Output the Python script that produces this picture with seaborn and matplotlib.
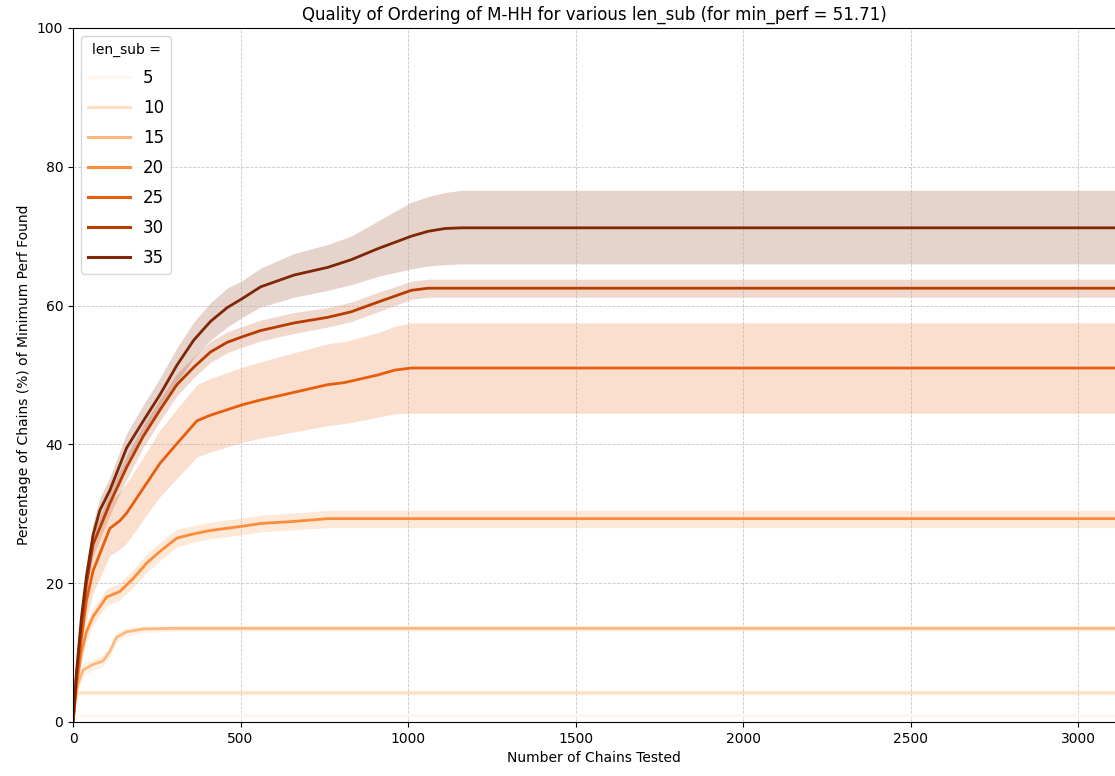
import numpy as np
import pandas as pd
import matplotlib
matplotlib.use("Agg")
import matplotlib.pyplot as plt
import seaborn as sns

X_END = 3110

# Mean percentage of chains reaching min_perf, with lower / upper band, per len_sub
len_sub_levels = [5, 10, 15, 20, 25, 30, 35]

x_5 = [0, 3, 8, X_END]
mean_5 = [0.0, 0.6, 0.9, 0.9]
lo_5 = [0.0, 0.4, 0.7, 0.7]
hi_5 = [0.0, 0.8, 1.1, 1.1]

x_10 = [0, 5, 12, 20, X_END]
mean_10 = [0.0, 2.5, 4.1, 4.2, 4.2]
lo_10 = [0.0, 1.8, 3.6, 3.8, 3.8]
hi_10 = [0.0, 3.2, 4.6, 4.6, 4.6]

x_15 = [0, 5, 15, 30, 60, 90, 110, 130, 160, 210, 310, X_END]
mean_15 = [0.0, 3.0, 5.5, 7.5, 8.3, 8.8, 10.2, 12.2, 13.0, 13.4, 13.5, 13.5]
lo_15 = [0.0, 2.2, 4.6, 6.6, 7.5, 8.0, 9.4, 11.5, 12.4, 12.9, 13.1, 13.1]
hi_15 = [0.0, 3.8, 6.4, 8.4, 9.1, 9.6, 11.0, 12.9, 13.6, 13.9, 13.9, 13.9]

x_20 = [0, 10, 25, 40, 60, 100, 140, 180, 220, 260, 310, 360, 410, 505, 560, 660, 760, X_END]
mean_20 = [0.0, 5.0, 10.0, 13.0, 15.2, 18.0, 18.8, 20.7, 22.9, 24.6, 26.5, 27.1,
           27.6, 28.2, 28.6, 28.9, 29.3, 29.3]
lo_20 = [0.0, 4.0, 8.8, 11.8, 14.0, 16.8, 17.6, 19.4, 21.6, 23.3, 25.2, 25.9,
         26.4, 27.0, 27.4, 27.7, 28.0, 28.0]
hi_20 = [0.0, 6.0, 11.2, 14.2, 16.4, 19.2, 20.0, 22.0, 24.2, 25.9, 27.8, 28.3,
         28.8, 29.4, 29.8, 30.1, 30.5, 30.5]

x_25 = [0, 10, 25, 40, 60, 110, 140, 160, 210, 260, 310, 370, 410, 505, 560, 660,
        760, 810, 910, 960, 1010, X_END]
mean_25 = [0.0, 5.5, 12.0, 17.5, 21.8, 27.9, 29.0, 30.1, 33.7, 37.3, 40.1, 43.4,
           44.2, 45.7, 46.4, 47.5, 48.6, 48.9, 50.0, 50.7, 51.0, 51.0]
lo_25 = [0.0, 4.0, 9.8, 14.8, 18.6, 24.0, 24.9, 25.8, 29.2, 32.5, 35.1, 38.2,
         38.9, 40.3, 40.9, 41.8, 42.7, 43.0, 43.9, 44.4, 44.5, 44.5]
hi_25 = [0.0, 7.0, 14.2, 20.2, 25.0, 31.8, 33.1, 34.4, 38.2, 42.1, 45.1, 48.6,
         49.5, 51.1, 51.9, 53.2, 54.5, 54.8, 56.1, 57.0, 57.5, 57.5]

x_30 = [0, 10, 25, 40, 60, 110, 160, 210, 260, 310, 360, 410, 460, 505, 560, 660,
        760, 830, 910, 1010, 1060, X_END]
mean_30 = [0.0, 6.5, 14.0, 20.0, 25.6, 31.5, 36.7, 41.2, 45.0, 48.6, 51.1, 53.3,
           54.7, 55.5, 56.4, 57.5, 58.3, 59.1, 60.5, 62.2, 62.5, 62.5]
lo_30 = [0.0, 5.5, 12.6, 18.5, 24.0, 29.8, 35.0, 39.6, 43.4, 47.0, 49.6, 51.8,
         53.2, 54.0, 54.9, 56.0, 56.9, 57.7, 59.1, 60.9, 61.2, 61.2]
hi_30 = [0.0, 7.5, 15.4, 21.5, 27.2, 33.2, 38.4, 42.8, 46.6, 50.2, 52.6, 54.8,
         56.2, 57.0, 57.9, 59.0, 59.7, 60.5, 61.9, 63.5, 63.8, 63.8]

x_35 = [0, 10, 25, 40, 60, 80, 110, 160, 210, 260, 310, 360, 410, 460, 505, 560,
        660, 760, 830, 910, 1010, 1060, 1110, 1160, X_END]
mean_35 = [0.0, 7.0, 15.0, 21.0, 27.0, 30.5, 33.4, 39.5, 43.4, 47.2, 51.4, 55.0,
           57.7, 59.7, 61.0, 62.7, 64.4, 65.5, 66.6, 68.2, 70.0, 70.7, 71.1, 71.2, 71.2]
lo_35 = [0.0, 6.0, 13.6, 19.4, 25.3, 28.7, 31.5, 37.4, 41.1, 44.8, 48.9, 52.4,
         55.0, 56.9, 58.3, 59.8, 61.2, 62.2, 63.0, 64.2, 65.3, 65.7, 65.9, 66.0, 66.0]
hi_35 = [0.0, 8.0, 16.4, 22.6, 28.7, 32.3, 35.3, 41.6, 45.7, 49.6, 53.9, 57.6,
         60.4, 62.5, 63.6, 65.4, 67.5, 68.8, 70.0, 72.2, 74.9, 75.7, 76.3, 76.6, 76.6]

series = {
    5: (x_5, mean_5, lo_5, hi_5),
    10: (x_10, mean_10, lo_10, hi_10),
    15: (x_15, mean_15, lo_15, hi_15),
    20: (x_20, mean_20, lo_20, hi_20),
    25: (x_25, mean_25, lo_25, hi_25),
    30: (x_30, mean_30, lo_30, hi_30),
    35: (x_35, mean_35, lo_35, hi_35),
}

frames = []
for k, (xs, m, lo, hi) in series.items():
    frames.append(pd.DataFrame({"chains": xs, "pct": m, "lo": lo, "hi": hi, "len_sub": k}))
df = pd.concat(frames, ignore_index=True)

cmap = plt.get_cmap("Oranges")
norm = plt.Normalize(min(len_sub_levels), max(len_sub_levels))

fig = plt.figure(figsize=(11.15, 7.76), dpi=100)
ax = fig.add_axes([0.0655, 0.0696, 0.9345, 0.8944])

sns.lineplot(data=df, x="chains", y="pct", hue="len_sub", palette="Oranges",
             hue_norm=(min(len_sub_levels), max(len_sub_levels)),
             legend="full", linewidth=2, ax=ax)

for k, (xs, m, lo, hi) in series.items():
    ax.fill_between(xs, lo, hi, color=cmap(norm(k)), alpha=0.2, linewidth=0)

ax.set_xlim(0, X_END)
ax.set_ylim(0, 100)
ax.set_xticks([0, 500, 1000, 1500, 2000, 2500, 3000])
ax.set_yticks([0, 20, 40, 60, 80, 100])
ax.grid(True, linestyle="--", linewidth=0.6, color="#b0b0b0", alpha=0.7)
ax.spines["right"].set_visible(False)
ax.tick_params(labelsize=10)

ax.set_xlabel("Number of Chains Tested", fontsize=10)
ax.set_ylabel("Percentage of Chains (%) of Minimum Perf Found", fontsize=10)
ax.set_title("Quality of Ordering of M-HH for various len_sub (for min_perf = 51.71)",
             fontsize=12)

leg = ax.legend(title="len_sub =", loc="upper left", fontsize=12, title_fontsize=10,
                handlelength=2.5, labelspacing=0.72)
for line in leg.get_lines():
    line.set_linewidth(2.2)

fig.savefig("out.png", dpi=100)
